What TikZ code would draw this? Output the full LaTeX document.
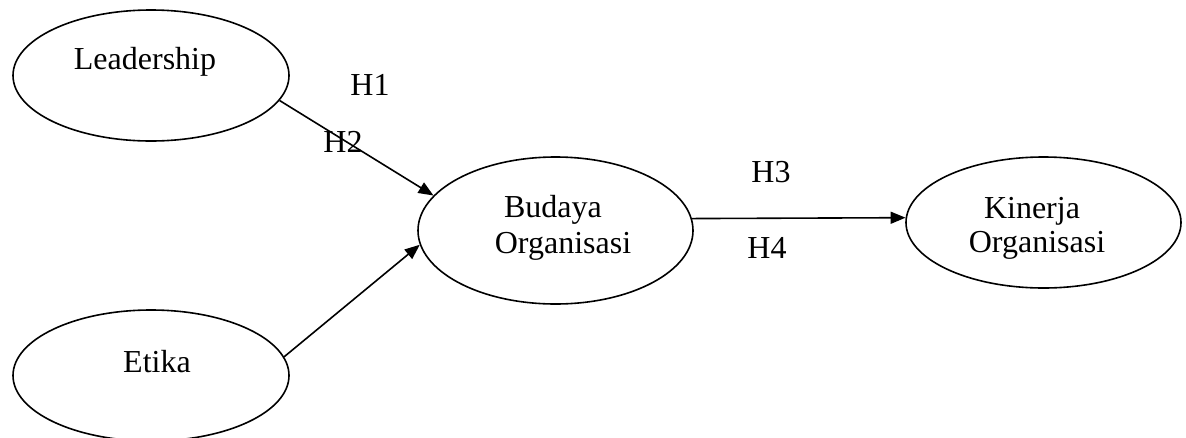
\documentclass[tikz,border=0pt]{standalone}
\usepackage{fontspec}
\setmainfont{Liberation Serif}
\usetikzlibrary{shapes.geometric,arrows.meta}
\begin{document}
\begin{tikzpicture}[x=1pt,y=-1pt,
  oval/.style={draw,ellipse,line width=1.6pt,inner sep=0pt},
  lbl/.style={inner sep=0pt,font=\fontsize{32}{37}\selectfont,align=center},
  conn/.style={line width=1.6pt,-{Triangle[length=15pt,width=12pt]}}]
\useasboundingbox (0,0) rectangle (1186,437);
\clip (0,0) rectangle (1186,437);
\node[oval,minimum width=276pt,minimum height=131pt] (lead) at (151,75.5) {};
\node[oval,minimum width=276pt,minimum height=131pt] (etika) at (151,375.5) {};
\node[oval,minimum width=275pt,minimum height=147pt] (bud) at (555.5,230.5) {};
\node[oval,minimum width=275pt,minimum height=131pt] (kin) at (1043.5,222.5) {};
\node[lbl] (tlead) at (145,62) {Leadership};
\node[lbl] (tetika) at (157,362) {Etika};
\node[lbl] (tbud1) at (553,210) {Budaya};
\node[lbl] (tbud2) at (563,246) {Organisasi};
\node[lbl] (tkin1) at (1032,211) {Kinerja};
\node[lbl] (tkin2) at (1037,245) {Organisasi};
\node[lbl] (h1) at (370,85) {H1};
\node[lbl] (h2) at (343,142) {H2};
\node[lbl] (h3) at (771,172) {H3};
\node[lbl] (h4) at (767,248) {H4};
\draw[conn] (lead.349) -- (bud.164.8);
\draw[conn] (etika.8.8) -- (bud.186.2);
\draw[conn] (bud.5.8) -- (kin.178.3);
\end{tikzpicture}
\end{document}
